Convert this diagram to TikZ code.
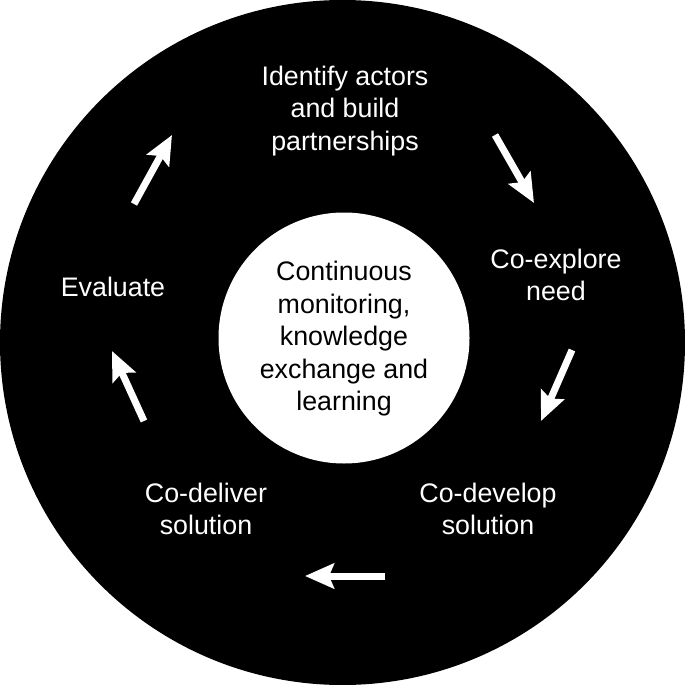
\documentclass[tikz,border=0pt]{standalone}
\usepackage{fontspec}
\setmainfont{Liberation Sans}
\usetikzlibrary{arrows.meta}
\begin{document}
\begin{tikzpicture}[x=1pt,y=-1pt,
  lbl/.style={text=white,align=center,font=\fontsize{26.8}{32.5}\selectfont,inner sep=0pt},
  clbl/.style={lbl,text=black},
  flow/.style={white,line width=7pt,-{Stealth[length=29pt,width=25pt,inset=5pt]}}]
\useasboundingbox (0,0) rectangle (685,685);
\fill[black] (342.5,342.5) circle[radius=342.5];
\fill[white] (344,338) circle[radius=125.5];
\node[clbl] (hub) at (344,339) {Continuous\\monitoring,\\knowledge\\exchange and\\learning};
\node[lbl] (identify) at (345,111) {Identify actors\\and build\\partnerships};
\node[lbl] (explore) at (556,275) {Co-explore\\need};
\node[lbl] (develop) at (488,509) {Co-develop\\solution};
\node[lbl] (deliver) at (206,509) {Co-deliver\\solution};
\node[lbl] (evaluate) at (113,287) {Evaluate};
\coordinate (a1s) at (134,204); \coordinate (a1e) at (172,135);
\coordinate (a2s) at (495,135); \coordinate (a2e) at (534,203);
\coordinate (a3s) at (572,350); \coordinate (a3e) at (541,421);
\coordinate (a4s) at (385,576); \coordinate (a4e) at (305,576);
\coordinate (a5s) at (144,421); \coordinate (a5e) at (112,351);
\draw[flow] (a1s) -- (a1e);
\draw[flow] (a2s) -- (a2e);
\draw[flow] (a3s) -- (a3e);
\draw[flow] (a4s) -- (a4e);
\draw[flow] (a5s) -- (a5e);
\end{tikzpicture}
\end{document}
